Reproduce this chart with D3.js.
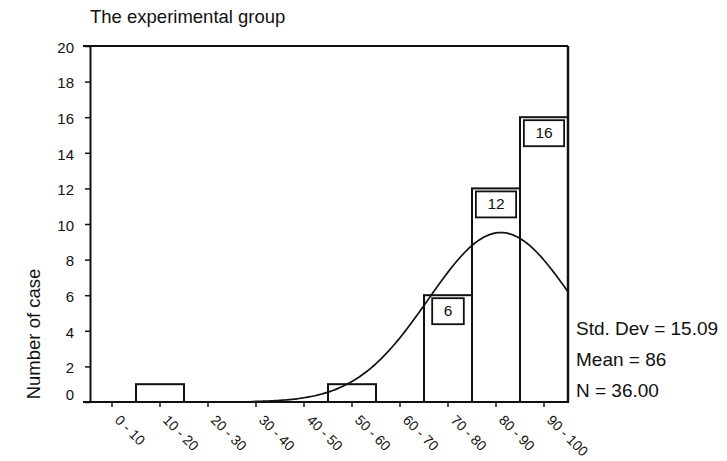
<!DOCTYPE html>
<html>
<head>
<meta charset="utf-8">
<script src="https://cdn.jsdelivr.net/npm/d3@7/dist/d3.min.js"></script>
<style>
  html, body { margin: 0; padding: 0; background: #fff; }
  svg { display: block; font-family: "Liberation Sans", Arial, sans-serif; }
</style>
</head>
<body>
<svg id="chart" width="727" height="461"></svg>
<script>
// Score intervals and number of cases in each
const bins = ["0 - 10", "10 - 20", "20 - 30", "30 - 40", "40 - 50", "50 - 60", "60 - 70", "70 - 80", "80 - 90", "90 - 100"];
const counts = [0, 1, 0, 0, 0, 1, 0, 6, 12, 16];
// Bars that carry a boxed count label
const labelled = [7, 8, 9];
const yTicks = [0, 2, 4, 6, 8, 10, 12, 14, 16, 18, 20];
// Summary statistics of the scores
const stdDev = 15.09;
const mean = 86;
const nCases = 36;
const statLines = ["Std. Dev = 15.09", "Mean = 86", "N = 36.00"];
const binWidth = 10;
const curveRange = [34, 100];

const svg = d3.select("#chart");
const plotL = 88, plotR = 568, plotT = 46, plotB = 402;

const x = d3.scaleBand().domain(bins).range([plotL, plotR]).padding(0);
const xv = d3.scaleLinear().domain([0, 100]).range([plotL, plotR]);
const y = d3.scaleLinear().domain([0, 20]).range([plotB, plotT]);

// Title
svg.append("text").attr("x", 90).attr("y", 23)
  .attr("font-size", 18.5).attr("fill", "#111")
  .text("The experimental group");

// Bars
svg.append("g").selectAll("rect").data(counts.map((c, i) => ({ c, i })).filter(d => d.c > 0))
  .join("rect")
  .attr("x", d => x(bins[d.i]))
  .attr("y", d => y(d.c))
  .attr("width", x.bandwidth())
  .attr("height", d => y(0) - y(d.c))
  .attr("fill", "#fff").attr("stroke", "#111").attr("stroke-width", 2);

// Normal curve scaled to counts per interval
const pdf = v => nCases * binWidth / (stdDev * Math.sqrt(2 * Math.PI)) * Math.exp(-0.5 * ((v - mean) / stdDev) ** 2);
const pts = d3.range(curveRange[0], curveRange[1] + 0.01, 0.5).map(v => [xv(v), y(pdf(v))]);
svg.append("path").attr("d", d3.line()(pts))
  .attr("fill", "none").attr("stroke", "#111").attr("stroke-width", 1.7);

// Boxed value labels
const lab = svg.append("g").selectAll("g").data(labelled).join("g");
lab.each(function (i) {
  const g = d3.select(this);
  const cx = x(bins[i]) + x.bandwidth() / 2;
  const t = g.append("text").attr("x", cx).attr("y", y(counts[i]) + 21)
    .attr("text-anchor", "middle").attr("font-size", 15.5).attr("fill", "#111")
    .text(counts[i]);
  const w = Math.min(t.node().getComputedTextLength() + 23, x.bandwidth() - 4);
  g.insert("rect", "text")
    .attr("x", cx - w / 2).attr("y", y(counts[i]) + 3)
    .attr("width", w).attr("height", 26)
    .attr("fill", "#fff").attr("stroke", "#111").attr("stroke-width", 1.8);
});

// Frame: top and right borders
svg.append("line").attr("x1", plotL - 5).attr("x2", plotR).attr("y1", plotT).attr("y2", plotT)
  .attr("stroke", "#111").attr("stroke-width", 2);
svg.append("line").attr("x1", plotR).attr("x2", plotR).attr("y1", plotT).attr("y2", plotB)
  .attr("stroke", "#111").attr("stroke-width", 2.5);

// Y axis
const yAxis = svg.append("g").attr("transform", `translate(${plotL + 2},0)`)
  .call(d3.axisLeft(y).tickValues(yTicks).tickSize(5).tickPadding(11).tickSizeOuter(0));
yAxis.select(".domain").attr("stroke", "#111").attr("stroke-width", 2);
yAxis.selectAll(".tick line").attr("stroke", "#111").attr("stroke-width", 1.5);
yAxis.selectAll(".tick text").attr("font-size", 15).attr("fill", "#111")
  .attr("font-family", "Liberation Sans, Arial, sans-serif")
  .attr("dy", d => d === 0 ? "-0.15em" : "0.42em");

// X axis
const xAxis = svg.append("g").attr("transform", `translate(0,${plotB})`)
  .call(d3.axisBottom(x).tickSize(5).tickSizeOuter(0));
xAxis.select(".domain").attr("stroke", "#111").attr("stroke-width", 2)
  .attr("d", `M${plotL - 5},0H${plotR}`);
xAxis.selectAll(".tick line").attr("stroke", "#111").attr("stroke-width", 1.5);
xAxis.selectAll(".tick text")
  .attr("font-size", 14).attr("fill", "#111")
  .attr("font-family", "Liberation Sans, Arial, sans-serif")
  .attr("text-anchor", "start")
  .attr("y", 0).attr("dy", 0)
  .attr("transform", "translate(2,19) rotate(45)");

// Y axis title
svg.append("text")
  .attr("transform", "translate(40,334) rotate(-90)")
  .attr("text-anchor", "middle").attr("font-size", 18.5).attr("fill", "#111")
  .text("Number of case");

// Statistics
svg.append("g").selectAll("text").data(statLines).join("text")
  .attr("x", 576).attr("y", (d, i) => 335 + i * 31)
  .attr("font-size", 19).attr("fill", "#111")
  .text(d => d);
</script>
</body>
</html>
